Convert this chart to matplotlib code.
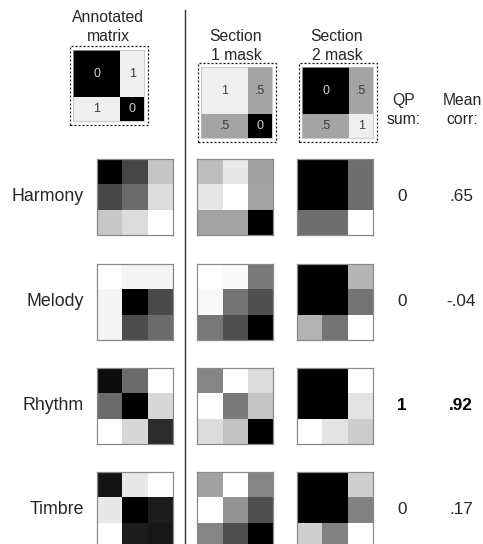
import numpy as np
import matplotlib
matplotlib.use("Agg")
import matplotlib.pyplot as plt
from matplotlib.colors import LinearSegmentedColormap
from matplotlib.patches import Rectangle
from matplotlib.lines import Line2D

plt.rcParams['font.family'] = ['Liberation Sans', 'DejaVu Sans']

W, H = 483, 544
DPI = 100

# ---- data -------------------------------------------------------------
features = ["Harmony", "Melody", "Rhythm", "Timbre"]
qp_sum = ["0", "0", "1", "0"]
mean_corr = [".65", "-.04", ".92", ".17"]
highlight = [False, False, True, False]

# section sizes (in segments) of the 3-segment example
section_sizes = [2, 1]

annotated_matrix = [[0, 1], [1, 0]]
section1_mask = [[1, .5], [.5, 0]]
section2_mask = [[0, .5], [.5, 1]]
header_titles = ["Annotated\nmatrix", "Section\n1 mask", "Section\n2 mask"]

# 3x3 self-similarity matrices per feature (grey level, 0 = black)
annotated = {
    "Harmony": [[0.00, 0.27, 0.77], [0.28, 0.42, 0.86], [0.78, 0.86, 1.00]],
    "Melody":  [[1.00, 0.96, 0.96], [0.96, 0.00, 0.29], [0.96, 0.30, 0.42]],
    "Rhythm":  [[0.05, 0.42, 1.00], [0.42, 0.00, 0.84], [1.00, 0.84, 0.17]],
    "Timbre":  [[0.08, 0.91, 1.00], [0.91, 0.00, 0.11], [1.00, 0.11, 0.09]],
}
section1 = {
    "Harmony": [[0.74, 0.91, 0.63], [0.90, 1.00, 0.64], [0.64, 0.64, 0.00]],
    "Melody":  [[1.00, 0.98, 0.48], [0.98, 0.45, 0.31], [0.47, 0.31, 0.00]],
    "Rhythm":  [[0.52, 1.00, 0.86], [1.00, 0.48, 0.77], [0.86, 0.76, 0.00]],
    "Timbre":  [[0.63, 1.00, 0.52], [1.00, 0.58, 0.31], [0.52, 0.31, 0.00]],
}
section2 = {
    "Harmony": [[0.00, 0.00, 0.43], [0.00, 0.00, 0.43], [0.43, 0.43, 1.00]],
    "Melody":  [[0.00, 0.00, 0.71], [0.00, 0.00, 0.45], [0.70, 0.45, 1.00]],
    "Rhythm":  [[0.00, 0.00, 1.00], [0.00, 0.00, 0.89], [1.00, 0.89, 0.80]],
    "Timbre":  [[0.00, 0.00, 0.81], [0.00, 0.00, 0.51], [0.81, 0.51, 1.00]],
}

# ---- helpers ----------------------------------------------------------
fig = plt.figure(figsize=(W / DPI, H / DPI), dpi=DPI)
TXT = '#262626'


def fx(x):
    return x / W


def fy(y):
    return 1 - y / H


def add_box(x0, y0, w, h):
    ax = fig.add_axes([fx(x0), fy(y0 + h), w / W, h / H])
    ax.set_xticks([])
    ax.set_yticks([])
    return ax


def style_spines(ax, color='#8a8a8a', lw=0.9):
    for s in ax.spines.values():
        s.set_color(color)
        s.set_linewidth(lw)


mask_cmap = LinearSegmentedColormap.from_list(
    "mask", [(0, '#000000'), (0.5, '#a4a4a4'), (1, '#efefef')])


def draw_header(x0, y0, size, blocks, title, tx, ty):
    ax = add_box(x0, y0, size, size)
    b = np.array(blocks, dtype=float)
    full = np.repeat(np.repeat(b, section_sizes, axis=0), section_sizes, axis=1)
    ax.imshow(full, cmap=mask_cmap, vmin=0, vmax=1, aspect='auto',
              interpolation='nearest')
    edges = np.concatenate([[0], np.cumsum(section_sizes)]) - 0.5
    centers = (edges[:-1] + edges[1:]) / 2
    for i, cy in enumerate(centers):
        for j, cx in enumerate(centers):
            v = b[i, j]
            label = ("%g" % v).lstrip('0') if v not in (0, 1) else "%d" % v
            col = '#cfcfcf' if v == 0 else '#3a3a3a'
            ax.text(cx, cy, label, ha='center', va='center', fontsize=9,
                    color=col)
    style_spines(ax, '#bbbbbb', 0.5)
    pad = 3.5
    fig.patches.append(Rectangle((fx(x0 - pad), fy(y0 + size + pad)),
                                 (size + 2 * pad) / W, (size + 2 * pad) / H,
                                 transform=fig.transFigure, fill=False,
                                 edgecolor='#111111', linewidth=0.9,
                                 linestyle=(0, (1.6, 1.6))))
    fig.text(fx(tx), fy(ty), title, ha='center', va='center', fontsize=11.3,
             color=TXT, linespacing=1.32)


# ---- header -----------------------------------------------------------
draw_header(73, 50, 71, annotated_matrix, header_titles[0], 108, 27)
draw_header(201, 67, 71, section1_mask, header_titles[1], 236, 46)
draw_header(302, 67, 71, section2_mask, header_titles[2], 337, 46)

fig.text(fx(404), fy(110), "QP\nsum:", ha='center', va='center',
         fontsize=11.3, color=TXT, linespacing=1.32)
fig.text(fx(462), fy(110), "Mean\ncorr:", ha='center', va='center',
         fontsize=11.3, color=TXT, linespacing=1.32)

# vertical separator
fig.add_artist(Line2D([fx(184.5), fx(184.5)], [fy(10), fy(544)],
                      transform=fig.transFigure, color='#333333',
                      linewidth=1.0))

# ---- feature rows -----------------------------------------------------
row_tops = [159, 264, 368, 472]
col_lefts = [97, 197, 297]
msize = 76

for r, name in enumerate(features):
    top = row_tops[r]
    cy = top + msize / 2
    for c, mats in enumerate([annotated, section1, section2]):
        ax = add_box(col_lefts[c], top, msize, msize)
        ax.imshow(np.array(mats[name]), cmap='gray', vmin=0, vmax=1,
                  aspect='auto', interpolation='nearest')
        style_spines(ax)
    fig.text(fx(84), fy(cy), name, ha='right', va='center', fontsize=12.8,
             color=TXT)
    w = 'bold' if highlight[r] else 'normal'
    fig.text(fx(402), fy(cy), qp_sum[r], ha='center', va='center',
             fontsize=12.3, color=TXT if not highlight[r] else 'black',
             fontweight=w)
    fig.text(fx(461), fy(cy), mean_corr[r], ha='center', va='center',
             fontsize=12.3, color=TXT if not highlight[r] else 'black',
             fontweight=w)

fig.savefig("out.png", dpi=DPI)
